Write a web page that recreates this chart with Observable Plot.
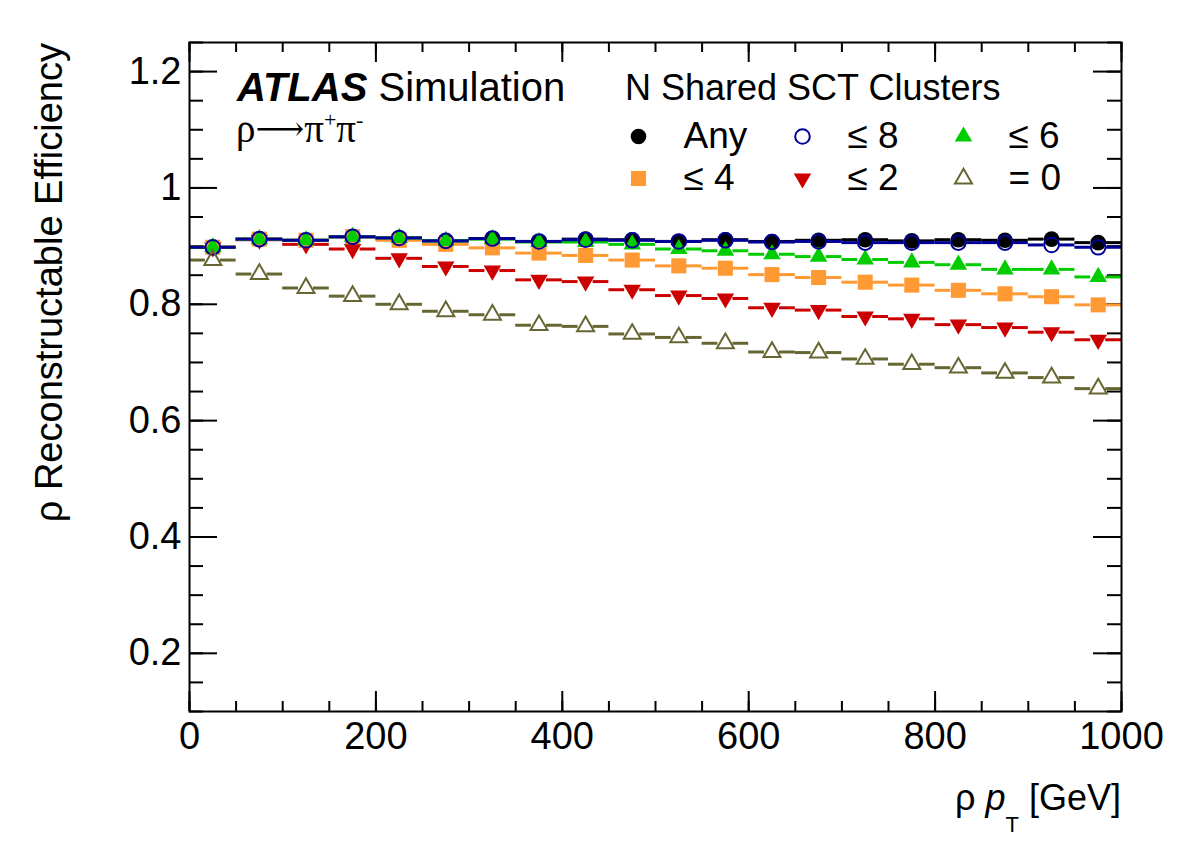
<!DOCTYPE html>
<html>
<head>
<meta charset="utf-8">
<script src="https://cdn.jsdelivr.net/npm/d3@7"></script>
<script src="https://cdn.jsdelivr.net/npm/@observablehq/plot@0.6"></script>
<style>
  html, body { margin: 0; padding: 0; background: #fff; }
  #chart svg { display: block; }
</style>
</head>
<body>
<div id="chart"></div>
<script>
// ρ pT bins (GeV): centres, 50 GeV wide
const ptCenters = [25, 75, 125, 175, 225, 275, 325, 375, 425, 475,
                   525, 575, 625, 675, 725, 775, 825, 875, 925, 975];
const ptBinWidth = 50;

// Reconstructable efficiency for each cut on the number of shared SCT clusters
const effAny = [0.898, 0.912, 0.910, 0.916, 0.914, 0.909, 0.913, 0.908, 0.912, 0.911,
                0.908, 0.911, 0.908, 0.910, 0.911, 0.909, 0.911, 0.910, 0.912, 0.906];
const effLe8 = [0.898, 0.912, 0.910, 0.916, 0.914, 0.909, 0.913, 0.908, 0.911, 0.910,
                0.908, 0.910, 0.907, 0.908, 0.906, 0.906, 0.906, 0.906, 0.902, 0.898];
const effLe6 = [0.898, 0.912, 0.910, 0.916, 0.914, 0.909, 0.912, 0.907, 0.907, 0.903,
                0.895, 0.892, 0.886, 0.882, 0.877, 0.872, 0.868, 0.860, 0.860, 0.847];
const effLe4 = [0.898, 0.912, 0.910, 0.916, 0.910, 0.903, 0.897, 0.888, 0.884, 0.876,
                0.866, 0.862, 0.851, 0.846, 0.838, 0.833, 0.824, 0.818, 0.813, 0.799];
const effLe2 = [0.898, 0.911, 0.903, 0.895, 0.879, 0.865, 0.858, 0.842, 0.839, 0.825,
                0.815, 0.810, 0.794, 0.790, 0.779, 0.775, 0.765, 0.760, 0.752, 0.739];
const effEq0 = [0.876, 0.852, 0.828, 0.814, 0.800, 0.788, 0.782, 0.764, 0.762, 0.749,
                0.743, 0.733, 0.718, 0.717, 0.706, 0.697, 0.691, 0.682, 0.674, 0.655];

// Axis ticks and labels
const xTicks = [0, 200, 400, 600, 800, 1000];
const yTicks = [0.2, 0.4, 0.6, 0.8, 1, 1.2];
const yTickLabels = ["0.2", "0.4", "0.6", "0.8", "1", "1.2"];

// Series styling (ROOT-like markers), in drawing order
const series = [
  {name: "Any", values: effAny, color: "#000000", symbol: "circle",   r: 7.8, fill: "#000000", stroke: "none", rotate: 0},
  {name: "≤ 2", values: effLe2, color: "#cc0000", symbol: "triangle", r: 6.5, fill: "#cc0000", stroke: "none", rotate: 180},
  {name: "≤ 4", values: effLe4, color: "#ff9933", symbol: "square",   r: 8.5, fill: "#ff9933", stroke: "none", rotate: 0},
  {name: "≤ 6", values: effLe6, color: "#00cc00", symbol: "triangle", r: 6.5, fill: "#00cc00", stroke: "none", rotate: 0},
  {name: "≤ 8", values: effLe8, color: "#000099", symbol: "circle",   r: 7.3, fill: "none",    stroke: "#000099", rotate: 0},
  {name: "= 0", values: effEq0, color: "#666633", symbol: "triangle", r: 6.3, fill: "none",    stroke: "#666633", rotate: 0}
];
const legendOrder = ["Any", "≤ 8", "≤ 6", "≤ 4", "≤ 2", "= 0"];

const W = 1182, H = 848;
const mL = 189, mR = 61, mT = 42, mB = 137;
const plotW = W - mL - mR, plotH = H - mT - mB;
const sans = "'Liberation Sans', Arial, Helvetica, sans-serif";

const xMinor = d3.range(0, 1001, 50);
const yMinor = d3.range(0.1, 1.2501, 0.05).map(v => +v.toFixed(2));

const marks = [];

// Inward ticks on all four sides of the frame
marks.push(
  Plot.tickX(xMinor, {x: d => d, insetTop: plotH - 10, stroke: "black", strokeWidth: 2}),
  Plot.tickX(xMinor, {x: d => d, insetBottom: plotH - 10, stroke: "black", strokeWidth: 2}),
  Plot.tickX(xTicks, {x: d => d, insetTop: plotH - 20, stroke: "black", strokeWidth: 2}),
  Plot.tickX(xTicks, {x: d => d, insetBottom: plotH - 20, stroke: "black", strokeWidth: 2}),
  Plot.tickY(yMinor, {y: d => d, insetRight: plotW - 14, stroke: "black", strokeWidth: 2}),
  Plot.tickY(yMinor, {y: d => d, insetLeft: plotW - 14, stroke: "black", strokeWidth: 2}),
  Plot.tickY(yTicks, {y: d => d, insetRight: plotW - 28, stroke: "black", strokeWidth: 2}),
  Plot.tickY(yTicks, {y: d => d, insetLeft: plotW - 28, stroke: "black", strokeWidth: 2})
);

// Efficiency points with horizontal bin-width bars (bars stop at the marker edge)
for (const s of series) {
  const rows = ptCenters.map((c, i) => ({
    pt: c, lo: c - ptBinWidth / 2, hi: c + ptBinWidth / 2, eff: s.values[i]
  }));
  const gap = 7.5;
  marks.push(
    Plot.ruleY(rows, {y: "eff", x1: "lo", x2: "pt", insetRight: gap, stroke: s.color, strokeWidth: 3}),
    Plot.ruleY(rows, {y: "eff", x1: "pt", x2: "hi", insetLeft: gap, stroke: s.color, strokeWidth: 3}),
    Plot.dot(rows, {
      x: "pt", y: "eff", symbol: s.symbol, r: s.r, rotate: s.rotate,
      fill: s.fill, stroke: s.stroke, strokeWidth: s.stroke === "none" ? 0 : 2
    })
  );
}

// Legend: three columns, two rows, inside the frame
const legendCols = [449, 613, 774];
const legendRows = [94, 136];
legendOrder.forEach((name, k) => {
  const s = series.find(d => d.name === name);
  const dx = legendCols[k % 3], dy = legendRows[Math.floor(k / 3)];
  marks.push(
    Plot.dot([name], {
      frameAnchor: "top-left", dx, dy, symbol: s.symbol, r: s.r, rotate: s.rotate,
      fill: s.fill, stroke: s.stroke, strokeWidth: s.stroke === "none" ? 0 : 2
    }),
    Plot.text([name], {
      text: d => d, frameAnchor: "top-left", dx: dx + 45, dy,
      textAnchor: "start", lineAnchor: "middle", fontSize: 37, fill: "black"
    })
  );
});

marks.push(Plot.frame({stroke: "black", strokeWidth: 2}));

const svg = Plot.plot({
  width: W, height: H,
  marginLeft: mL, marginRight: mR, marginTop: mT, marginBottom: mB,
  style: {fontFamily: sans, fontSize: "38px", background: "white", color: "black"},
  x: {domain: [0, 1000], label: null, ticks: xTicks, tickSize: 0, tickPadding: 11, tickFormat: d => String(d)},
  y: {domain: [0.1, 1.25], label: null, ticks: yTicks, tickSize: 0, tickPadding: 8,
      tickFormat: d => yTickLabels[yTicks.indexOf(d)]},
  marks
});

const g = d3.select(svg);

// Axis titles
g.append("text")
  .attr("transform", `translate(62, ${mT + 1}) rotate(-90)`)
  .attr("text-anchor", "end")
  .attr("font-size", 38)
  .attr("fill", "black")
  .text("ρ Reconstructable Efficiency");

const xt = g.append("text")
  .attr("x", W - mR).attr("y", 810)
  .attr("text-anchor", "end")
  .attr("font-size", 36)
  .attr("fill", "black");
xt.append("tspan").text("ρ ");
xt.append("tspan").attr("font-style", "italic").text("p");
xt.append("tspan").attr("font-size", 22).attr("dy", 22).text("T");
xt.append("tspan").attr("dy", -22).text(" [GeV]");

// ATLAS label and decay channel
const atlas = g.append("text")
  .attr("x", mL + 48).attr("y", 101)
  .attr("text-anchor", "start")
  .attr("font-size", 40).attr("fill", "black");
atlas.append("tspan").attr("font-weight", "bold").attr("font-style", "italic").text("ATLAS");
atlas.append("tspan").text(" Simulation");

const decay = g.append("text")
  .attr("x", mL + 47).attr("y", 142)
  .attr("text-anchor", "start")
  .attr("font-family", "'Liberation Serif', 'DejaVu Serif', serif")
  .attr("font-size", 39).attr("fill", "black");
decay.append("tspan").text("ρ");
decay.append("tspan").attr("font-size", 34).attr("dy", -2).text("⟶");
decay.append("tspan").attr("dy", 2).text("π");
decay.append("tspan").attr("font-size", 22).attr("dy", -15).text("+");
decay.append("tspan").attr("dy", 15).text("π");
decay.append("tspan").attr("font-size", 22).attr("dy", -15).text("-");

// Legend header
g.append("text")
  .attr("x", 625).attr("y", 100)
  .attr("text-anchor", "start")
  .attr("font-size", 36).attr("fill", "black")
  .text("N Shared SCT Clusters");

document.getElementById("chart").appendChild(svg);
</script>
</body>
</html>
